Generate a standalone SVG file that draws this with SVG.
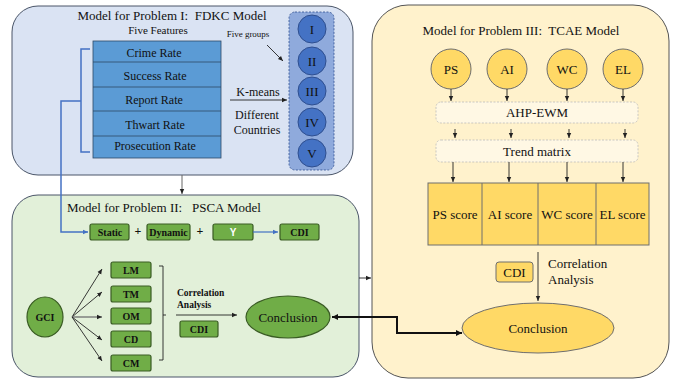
<svg xmlns="http://www.w3.org/2000/svg" width="673" height="381" viewBox="0 0 673 381">
<defs>
<style>
text{fill:#111;font-family:Liberation Serif, Tinos, DejaVu Serif, Times New Roman, serif;}
.t13{font-size:13px;}
.t12{font-size:12px;}
.c{text-anchor:middle;}
.gb{fill:#70AD47;stroke:#3A5C24;stroke-width:1.2;}
.gbt{font-size:10px;font-weight:bold;text-anchor:middle;}
.yb{fill:#FFD966;stroke:#6E6E6E;stroke-width:1;}
.bc{fill:#4472C4;stroke:#2F4F8F;stroke-width:1;}
.ln{stroke:#222;stroke-width:0.9;fill:none;}
.lnb{stroke:#4472C4;stroke-width:1.5;fill:none;}
.dash{stroke:#BBB;stroke-width:0.8;stroke-dasharray:2,1.5;fill:#FFF8E4;}
</style>
<marker id="ah" markerWidth="6" markerHeight="6" refX="5" refY="3" orient="auto" markerUnits="userSpaceOnUse"><path d="M0,0.8 L5,3 L0,5.2 z" fill="#222"/></marker>
<marker id="ahb" markerWidth="6" markerHeight="6" refX="5" refY="3" orient="auto" markerUnits="userSpaceOnUse"><path d="M0,0.8 L5,3 L0,5.2 z" fill="#4472C4"/></marker>
<marker id="ahk" markerWidth="8" markerHeight="8" refX="6" refY="4" orient="auto" markerUnits="userSpaceOnUse"><path d="M0,1 L6,4 L0,7 z" fill="#111"/></marker>
<marker id="ahks" markerWidth="8" markerHeight="8" refX="0" refY="4" orient="auto" markerUnits="userSpaceOnUse"><path d="M6,1 L0,4 L6,7 z" fill="#111"/></marker>
</defs>

<g id="panel1">
<rect x="12" y="6" width="341" height="169" rx="26" fill="#DAE3F3" stroke="#4A5568" stroke-width="1"/>
<text x="172" y="20" class="t13 c" xml:space="preserve">Model for Problem I:  FDKC Model</text>
<text x="158" y="34" class="c" style="font-size:11px">Five Features</text>
</g>

<g id="features">
<rect x="93" y="41" width="128" height="117" fill="#5B9BD5" stroke="#2E4A66" stroke-width="0.8"/>
<line x1="93" y1="62" x2="221" y2="62" stroke="#2E4A66" stroke-width="0.8"/>
<line x1="93" y1="87" x2="221" y2="87" stroke="#2E4A66" stroke-width="0.8"/>
<line x1="93" y1="111" x2="221" y2="111" stroke="#2E4A66" stroke-width="0.8"/>
<line x1="93" y1="136" x2="221" y2="136" stroke="#2E4A66" stroke-width="0.8"/>
<text x="154" y="57" class="t12 c">Crime Rate</text>
<text x="155" y="80" class="t12 c">Success Rate</text>
<text x="154" y="104" class="t12 c">Report Rate</text>
<text x="155" y="129" class="t12 c">Thwart Rate</text>
<text x="155" y="150" class="t12 c">Prosecution Rate</text>
</g>

<g id="groups">
<rect x="289" y="12" width="45" height="158" rx="6" fill="#8FAADC" stroke="#2F4F8F" stroke-width="0.8" stroke-dasharray="2,1.5"/>
<circle cx="312" cy="29" r="14" class="bc"/>
<circle cx="312" cy="61" r="14" class="bc"/>
<circle cx="312" cy="91" r="14" class="bc"/>
<circle cx="312" cy="122" r="14" class="bc"/>
<circle cx="312" cy="153" r="14" class="bc"/>
<text x="312" y="34" class="t13 c">I</text>
<text x="312" y="66" class="t13 c">II</text>
<text x="312" y="96" class="t13 c">III</text>
<text x="312" y="127" class="t13 c">IV</text>
<text x="312" y="158" class="t13 c">V</text>
<text x="248" y="37" class="c" style="font-size:9px">Five groups</text>
<text x="258" y="96" class="t12 c">K-means</text>
<text x="257" y="119" class="t12 c">Different</text>
<text x="257" y="134" class="t12 c">Countries</text>
</g>

<g id="panel2">
<rect x="12" y="195" width="347" height="182" rx="26" fill="#E2F0D9" stroke="#4A5568" stroke-width="1"/>
<text x="67" y="212" class="t13" xml:space="preserve">Model for Problem II:   PSCA Model</text>
</g>

<g id="static"><rect x="90" y="224" width="39" height="16" rx="2" class="gb"/><text x="110" y="235.5" class="gbt">Static</text></g>
<text x="138" y="235" class="c" style="font-size:12px;font-weight:bold">+</text>
<g id="dynamic"><rect x="147" y="224" width="43" height="16" rx="2" class="gb"/><text x="168.5" y="235.5" class="gbt">Dynamic</text></g>
<text x="200" y="235" class="c" style="font-size:12px;font-weight:bold">+</text>
<g id="y"><rect x="213" y="224" width="40" height="16" rx="2" class="gb"/><text x="233" y="235.5" class="gbt" style="fill:#fff;font-family:'Liberation Sans',sans-serif">Y</text></g>
<g id="cdi2"><rect x="280" y="224" width="39" height="16" rx="2" class="gb"/><text x="299.5" y="235.5" class="gbt">CDI</text></g>

<g id="gci"><ellipse cx="45" cy="317" rx="18" ry="20" class="gb"/><text x="45" y="321" class="gbt">GCI</text></g>
<g id="lm"><rect x="111" y="262" width="40" height="16" rx="2" class="gb"/><text x="131" y="273.5" class="gbt">LM</text></g>
<g id="tm"><rect x="111" y="286" width="40" height="16" rx="2" class="gb"/><text x="131" y="297.5" class="gbt">TM</text></g>
<g id="om"><rect x="111" y="308" width="40" height="16" rx="2" class="gb"/><text x="131" y="319.5" class="gbt">OM</text></g>
<g id="cd"><rect x="111" y="331" width="40" height="16" rx="2" class="gb"/><text x="131" y="342.5" class="gbt">CD</text></g>
<g id="cm"><rect x="111" y="355" width="40" height="16" rx="2" class="gb"/><text x="131" y="366.5" class="gbt">CM</text></g>
<g id="cdi2b"><rect x="180" y="321" width="38" height="16" rx="2" class="gb"/><text x="199" y="332.5" class="gbt">CDI</text></g>
<text x="177" y="296" style="font-size:9.5px;font-weight:bold">Correlation</text>
<text x="177" y="308" style="font-size:9.5px;font-weight:bold">Analysis</text>
<g id="conclusion2"><ellipse cx="288" cy="317" rx="42" ry="21" class="gb"/><text x="288" y="321.5" class="t13 c">Conclusion</text></g>

<g id="panel3">
<rect x="372" y="5" width="297" height="373" rx="36" fill="#FFF2CC" stroke="#555" stroke-width="1"/>
<text x="521" y="35" class="t13 c" xml:space="preserve">Model for Problem III:  TCAE Model</text>
</g>
<g id="ps"><circle cx="451" cy="69" r="20" class="yb"/><text x="451" y="74" class="t13 c">PS</text></g>
<g id="ai"><circle cx="507" cy="69" r="20" class="yb"/><text x="507" y="74" class="t13 c">AI</text></g>
<g id="wc"><circle cx="567" cy="69" r="20" class="yb"/><text x="567" y="74" class="t13 c">WC</text></g>
<g id="el"><circle cx="623" cy="69" r="20" class="yb"/><text x="623" y="74" class="t13 c">EL</text></g>
<g id="ahp"><rect x="436" y="102" width="202" height="21" rx="5" class="dash"/><text x="537" y="117" class="t13 c">AHP-EWM</text></g>
<g id="trend"><rect x="436" y="140" width="202" height="22" rx="5" class="dash"/><text x="537" y="156" class="t13 c">Trend matrix</text></g>
<g id="scores">
<rect x="428" y="183" width="221" height="62" class="yb"/>
<line x1="482" y1="183" x2="482" y2="245" stroke="#6E6E6E"/>
<line x1="538" y1="183" x2="538" y2="245" stroke="#6E6E6E"/>
<line x1="596" y1="183" x2="596" y2="245" stroke="#6E6E6E"/>
<text x="455" y="219" class="t13 c">PS score</text>
<text x="510" y="219" class="t13 c">AI score</text>
<text x="567" y="219" class="t13 c">WC score</text>
<text x="622.5" y="219" class="t13 c">EL score</text>
</g>
<g id="cdi3"><rect x="496" y="262" width="37" height="20" rx="3" class="yb"/><text x="514.5" y="277" class="t13 c">CDI</text></g>
<text x="548" y="268" class="t13">Correlation</text>
<text x="548" y="284" class="t13">Analysis</text>
<g id="conclusion3"><ellipse cx="538" cy="328" rx="76" ry="25" class="yb"/><text x="538" y="333" class="t13 c">Conclusion</text></g>

<g id="connectors">
<path d="M90,49 H81 V152 H90 M81,101 H61 V232 H88" class="lnb" marker-end="url(#ahb)"/>
<line x1="253" y1="232" x2="278" y2="232" class="lnb" marker-end="url(#ahb)" style="stroke-width:1.2"/>
<line x1="267" y1="45" x2="283" y2="61" class="ln" marker-end="url(#ah)"/>
<line x1="230" y1="100" x2="287" y2="100" class="ln" marker-end="url(#ah)"/>
<line x1="182" y1="175" x2="182" y2="194" stroke="#666" stroke-width="1" marker-end="url(#ah)"/>
<line x1="72" y1="317" x2="102" y2="269" class="ln" marker-end="url(#ah)"/>
<line x1="72" y1="317" x2="102" y2="292" class="ln" marker-end="url(#ah)"/>
<line x1="72" y1="317" x2="102" y2="317" class="ln" marker-end="url(#ah)" style="stroke:#777;stroke-width:1.4"/>
<line x1="72" y1="317" x2="102" y2="340" class="ln" marker-end="url(#ah)"/>
<line x1="72" y1="317" x2="102" y2="361" class="ln" marker-end="url(#ah)"/>
<path d="M159,266 H163 V360 H159 M163,315 H166" class="ln"/>
<line x1="176" y1="315" x2="237" y2="315" class="ln" marker-end="url(#ah)"/>
<line x1="359" y1="278" x2="371" y2="278" class="ln" marker-end="url(#ah)"/>
<path d="M332,317 H397 V333 H462" stroke="#111" stroke-width="2" fill="none" marker-start="url(#ahks)" marker-end="url(#ahk)"/>
<line x1="451" y1="89" x2="451" y2="101" class="ln" marker-end="url(#ah)"/>
<line x1="507" y1="89" x2="507" y2="101" class="ln" marker-end="url(#ah)"/>
<line x1="567" y1="89" x2="567" y2="101" class="ln" marker-end="url(#ah)"/>
<line x1="623" y1="89" x2="623" y2="101" class="ln" marker-end="url(#ah)"/>
<line x1="455" y1="129" x2="455" y2="138" class="ln" marker-end="url(#ah)"/>
<line x1="511" y1="129" x2="511" y2="138" class="ln" marker-end="url(#ah)"/>
<line x1="569" y1="129" x2="569" y2="138" class="ln" marker-end="url(#ah)"/>
<line x1="625" y1="129" x2="625" y2="138" class="ln" marker-end="url(#ah)"/>
<line x1="453" y1="162" x2="453" y2="182" class="ln" marker-end="url(#ah)"/>
<line x1="509" y1="162" x2="509" y2="182" class="ln" marker-end="url(#ah)"/>
<line x1="567" y1="162" x2="567" y2="182" class="ln" marker-end="url(#ah)"/>
<line x1="623" y1="162" x2="623" y2="182" class="ln" marker-end="url(#ah)"/>
<line x1="538" y1="252" x2="538" y2="301" class="ln" marker-end="url(#ah)"/>
</g>
</svg>
